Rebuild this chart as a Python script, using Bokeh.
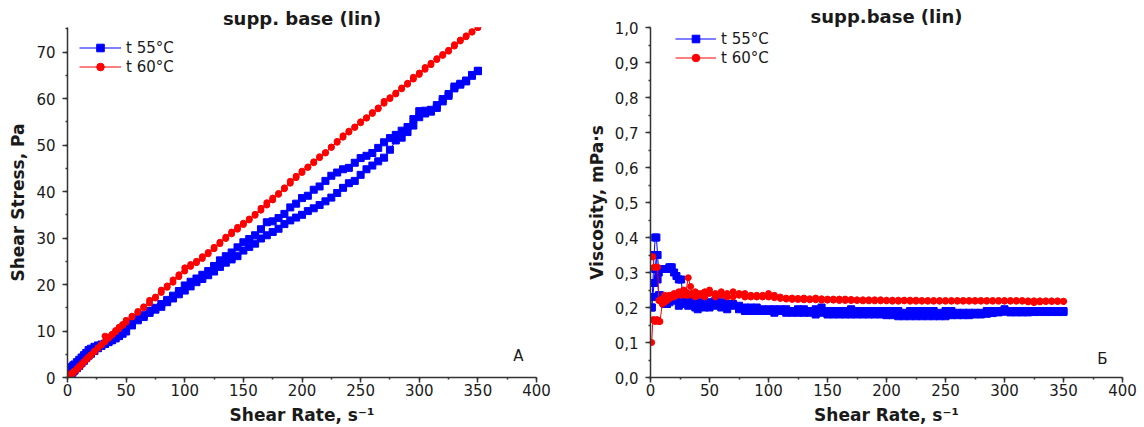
from bokeh.plotting import figure
from bokeh.layouts import row
from bokeh.models import (SingleIntervalTicker, Label, CustomJSTickFormatter, Range1d,
                          ColumnDataSource, Legend, LegendItem)
from bokeh.embed import file_html
from bokeh.resources import INLINE

# ---------------- data: shear stress (chart A) ----------------
rate_a = [1, 2, 3, 4, 5, 6, 8, 10, 12, 14, 16, 18, 20, 23, 26, 29, 32, 35, 38, 41, 44, 47,
          50, 55, 60, 65, 70, 75, 80, 85, 90, 95, 100, 105, 110, 115, 120, 125, 130, 135,
          140, 145, 150, 155, 160, 165, 170, 175, 180, 185, 190, 195, 200, 205, 210, 215,
          220, 225, 230, 235, 240, 245, 250, 255, 260, 265, 270, 275, 280, 285, 290, 295,
          300, 305, 310, 315, 320, 325, 330, 335, 340, 345, 350]

stress_55_up = [1.6, 1.9, 2.1, 2.3, 2.6, 2.8, 3.3, 3.8, 4.3, 4.8, 5.3, 5.9, 6.2, 6.6, 6.9, 7.1,
                7.3, 7.7, 8.1, 8.5, 9.2, 10.1,
                10.8, 11.9, 12.6, 13.4, 14.3, 15.0, 15.8, 16.7, 17.6, 18.6, 19.8, 20.6, 21.3,
                22.1, 22.9, 24.0, 25.2, 26.1, 26.9, 28.0, 29.1, 29.8, 30.6, 31.9, 33.4, 33.6,
                34.3, 35.2, 36.6, 37.4, 38.6, 39.1, 40.4, 41.1, 42.3, 43.4, 44.1, 44.8, 45.1,
                46.2, 47.2, 47.7, 48.3, 49.4, 50.6, 51.5, 52.2, 53.1, 53.9, 55.6, 57.3, 57.4,
                57.6, 58.6, 59.9, 61.0, 62.6, 63.2, 63.9, 65.1, 66.0]
stress_55_down = [0.4, 0.6, 0.8, 1.0, 1.3, 1.5, 2.0, 2.5, 3.1, 3.6, 4.2, 4.7, 5.1, 5.7, 6.3, 6.8,
                  7.2, 7.6, 8.0, 8.4, 8.9, 9.4,
                  9.9, 11.2, 12.3, 13.0, 13.9, 14.6, 15.2, 16.2, 17.0, 17.9, 18.7, 19.6, 20.5,
                  21.2, 22.0, 22.8, 23.8, 24.7, 25.4, 26.1, 27.3, 28.1, 28.8, 29.9, 30.6, 31.3,
                  32.0, 33.0, 33.8, 34.4, 35.0, 35.8, 36.4, 37.1, 37.9, 38.7, 39.7, 40.8, 41.8,
                  42.3, 43.6, 44.8, 45.6, 46.5, 47.3, 49.0, 51.0, 51.6, 52.8, 54.2, 56.0, 56.8,
                  57.2, 58.0, 59.4, 60.6, 62.2, 63.0, 63.7, 64.9, 65.9]
stress_60_up = [0.4, 0.6, 0.8, 1.0, 1.2, 1.4, 1.9, 2.4, 2.9, 3.4, 3.9, 4.4, 4.9, 5.7, 6.4, 7.1,
                8.9, 8.7, 9.3, 10.1, 10.8, 11.4,
                12.3, 13.2, 14.2, 15.2, 16.6, 17.3, 18.8, 19.7, 21.0, 22.1, 23.6, 24.3, 25.0,
                26.0, 26.9, 28.0, 29.1, 30.2, 31.3, 32.3, 33.2, 34.1, 35.1, 36.4, 37.6, 38.6,
                39.6, 40.8, 42.2, 43.3, 44.4, 45.3, 46.4, 47.5, 48.3, 49.6, 50.8, 52.0, 53.0,
                53.9, 55.0, 55.9, 57.0, 58.0, 59.4, 60.2, 61.2, 62.3, 63.3, 64.6, 65.5, 66.7,
                67.6, 68.6, 69.5, 70.4, 71.6, 72.6, 73.5, 74.4, 75.3]
stress_60_down = [0.2, 0.4, 0.6, 0.8, 1.0, 1.3, 1.7, 2.2, 2.7, 3.3, 3.8, 4.3, 4.8, 5.5, 6.3, 7.0,
                  7.7, 8.4, 9.1, 9.8, 10.5, 11.2,
                  11.9, 13.0, 14.0, 15.0, 16.0, 17.1, 18.3, 19.4, 20.5, 21.7, 22.9, 23.9, 24.7,
                  25.6, 26.6, 27.7, 28.8, 29.9, 30.9, 31.9, 32.9, 33.9, 34.9, 36.0, 37.1, 38.2,
                  39.4, 40.6, 41.8, 43.0, 44.1, 45.2, 46.2, 47.3, 48.4, 49.5, 50.6, 51.7, 52.8,
                  53.8, 54.8, 55.8, 56.8, 57.8, 59.0, 60.0, 61.0, 62.1, 63.1, 64.2, 65.2, 66.3,
                  67.3, 68.4, 69.3, 70.2, 71.3, 72.4, 73.3, 74.3, 75.3]

# ---------------- data: viscosity (chart Б) ----------------
rate_b = [1, 2, 3, 4, 5, 6, 7, 8, 10, 12, 14, 16, 18, 20, 22, 24, 26, 28, 30, 32, 34, 36, 38, 40,
          43, 46, 50, 55, 60, 65, 70, 75, 80, 85, 90, 95, 100, 105, 110, 115, 120, 125, 130,
          135, 140, 145, 150, 155, 160, 165, 170, 175, 180, 185, 190, 195, 200, 205, 210, 215,
          220, 225, 230, 235, 240, 245, 250, 255, 260, 265, 270, 275, 280, 285, 290, 295, 300,
          305, 310, 315, 320, 325, 330, 335, 340, 345, 350]

visc_55_up = [0.20, 0.27, 0.35, 0.40, 0.40, 0.35, 0.30, 0.31, 0.31, 0.31, 0.31, 0.315, 0.315,
              0.30, 0.29, 0.28, 0.28, 0.21, 0.23, 0.225, 0.22, 0.225, 0.215, 0.21,
              0.215, 0.21, 0.215, 0.22, 0.215, 0.21, 0.21, 0.205, 0.20, 0.20, 0.20, 0.195,
              0.195, 0.195, 0.195, 0.195, 0.19, 0.195, 0.195, 0.19, 0.195, 0.20, 0.19, 0.19,
              0.19, 0.19, 0.195, 0.19, 0.19, 0.19, 0.19, 0.19, 0.19, 0.19, 0.19, 0.185, 0.19,
              0.19, 0.19, 0.19, 0.19, 0.185, 0.19, 0.19, 0.185, 0.185, 0.185, 0.185, 0.185,
              0.19, 0.19, 0.19, 0.195, 0.19, 0.19, 0.19, 0.19, 0.19, 0.19, 0.19, 0.19, 0.19,
              0.19]
visc_55_down = [0.20, 0.23, 0.27, 0.31, 0.35, 0.28, 0.235, 0.235, 0.22, 0.21, 0.21, 0.215, 0.22,
                0.225, 0.22, 0.205, 0.21, 0.215, 0.215, 0.205, 0.215, 0.21, 0.20, 0.195,
                0.205, 0.20, 0.20, 0.205, 0.20, 0.195, 0.205, 0.195, 0.19, 0.19, 0.19, 0.19,
                0.19, 0.185, 0.19, 0.185, 0.185, 0.185, 0.185, 0.185, 0.18, 0.185, 0.18, 0.18,
                0.18, 0.18, 0.18, 0.18, 0.18, 0.18, 0.18, 0.18, 0.178, 0.178, 0.175, 0.175,
                0.175, 0.175, 0.175, 0.175, 0.175, 0.175, 0.175, 0.178, 0.178, 0.178, 0.178,
                0.18, 0.18, 0.182, 0.184, 0.186, 0.188, 0.186, 0.186, 0.186, 0.186, 0.187,
                0.187, 0.187, 0.187, 0.187, 0.187]
visc_60_up = [0.10, 0.165, 0.165, 0.16, 0.165, 0.165, 0.16, 0.16, 0.21, 0.235, 0.23, 0.235,
              0.235, 0.24, 0.235, 0.245, 0.24, 0.25, 0.245, 0.285, 0.26, 0.24, 0.245, 0.24,
              0.24, 0.245, 0.25, 0.24, 0.245, 0.24, 0.245, 0.24, 0.24, 0.235, 0.235, 0.235,
              0.24, 0.235, 0.23, 0.227, 0.227, 0.226, 0.227, 0.225, 0.227, 0.225, 0.224,
              0.224, 0.224, 0.224, 0.223, 0.222, 0.222, 0.222, 0.222, 0.222, 0.221, 0.221,
              0.221, 0.221, 0.221, 0.221, 0.22, 0.22, 0.22, 0.22, 0.22, 0.22, 0.22, 0.22,
              0.22, 0.22, 0.22, 0.22, 0.22, 0.22, 0.22, 0.22, 0.22, 0.22, 0.219, 0.219, 0.219,
              0.219, 0.219, 0.219, 0.218]
visc_60_down = [0.345, 0.345, 0.315, 0.315, 0.315, 0.315, 0.22, 0.22, 0.225, 0.215, 0.22, 0.225,
                0.23, 0.23, 0.235, 0.24, 0.235, 0.24, 0.235, 0.235, 0.24, 0.235, 0.23, 0.235,
                0.235, 0.23, 0.24, 0.23, 0.235, 0.23, 0.23, 0.235, 0.23, 0.23, 0.23, 0.23,
                0.23, 0.228, 0.226, 0.224, 0.223, 0.223, 0.222, 0.222, 0.222, 0.221, 0.221,
                0.221, 0.22, 0.22, 0.22, 0.22, 0.219, 0.219, 0.219, 0.219, 0.219, 0.218, 0.218,
                0.219, 0.218, 0.218, 0.218, 0.218, 0.218, 0.218, 0.218, 0.218, 0.218, 0.218,
                0.218, 0.218, 0.218, 0.218, 0.218, 0.218, 0.218, 0.218, 0.218, 0.218, 0.216,
                0.214, 0.216, 0.217, 0.217, 0.217, 0.217]

series_labels = ["t 55°C", "t 60°C"]
titles = ["supp. base (lin)", "supp.base (lin)"]
x_label = "Shear Rate, s⁻¹"
y_labels = ["Shear Stress, Pa", "Viscosity, mPa·s"]
panel_letters = ["А", "Б"]

FONT = "DejaVu Sans"
BLUE = "#0000ff"
RED = "#ff0000"
INK = "#1a1a1a"
AXIS = "#333333"


def sweep(rate, up, down):
    # up sweep followed by the down sweep (reversed order)
    return ColumnDataSource(dict(x=list(rate) + list(rate)[::-1], y=list(up) + list(down)[::-1]))


def style(p, xlab, ylab, title_standoff):
    p.xgrid.visible = False
    p.ygrid.visible = False
    p.outline_line_color = None
    p.background_fill_color = "white"
    p.border_fill_color = "white"
    p.title.align = "center"
    p.title.text_font = FONT
    p.title.text_font_size = "18px"
    p.title.text_font_style = "bold"
    p.title.text_color = INK
    p.title.standoff = title_standoff
    for ax in (p.xaxis[0], p.yaxis[0]):
        ax.axis_line_color = AXIS
        ax.axis_line_width = 1.5
        ax.major_tick_line_color = AXIS
        ax.major_tick_line_width = 1.5
        ax.minor_tick_line_color = AXIS
        ax.minor_tick_line_width = 1.5
        ax.major_tick_in = 0
        ax.major_tick_out = 5
        ax.minor_tick_in = 0
        ax.minor_tick_out = 2
        ax.major_label_text_font = FONT
        ax.major_label_text_font_size = "15px"
        ax.major_label_text_color = INK
        ax.axis_label_text_font = FONT
        ax.axis_label_text_font_size = "17px"
        ax.axis_label_text_font_style = "bold"
        ax.axis_label_text_color = INK
    p.xaxis.axis_label = xlab
    p.yaxis.axis_label = ylab
    p.xaxis.major_label_standoff = 1
    p.xaxis.axis_label_standoff = 6
    p.yaxis.major_label_standoff = 7
    p.yaxis.axis_label_standoff = 5
    p.xaxis.ticker = SingleIntervalTicker(interval=50, num_minor_ticks=2)


def draw(p, src55, src60, legend_xy, glyph_w):
    bl = p.line("x", "y", source=src55, line_color=BLUE, line_width=1)
    bs = p.scatter("x", "y", source=src55, marker="square", size=7, fill_color=BLUE, line_color=BLUE)
    rl = p.line("x", "y", source=src60, line_color=RED, line_width=1)
    rs = p.scatter("x", "y", source=src60, marker="circle", size=6, fill_color=RED, line_color=RED)
    leg = Legend(items=[LegendItem(label=series_labels[0], renderers=[bl, bs]),
                        LegendItem(label=series_labels[1], renderers=[rl, rs])],
                 location=legend_xy, glyph_width=glyph_w, glyph_height=19, label_height=19,
                 spacing=0, padding=0, margin=0, label_standoff=5,
                 border_line_alpha=0, background_fill_alpha=0,
                 label_text_font=FONT, label_text_font_size="15px", label_text_color=INK)
    p.add_layout(leg)


# ---------------- chart A ----------------
p1 = figure(width=570, height=427, x_range=Range1d(0, 400), y_range=Range1d(0, 75.3),
            title=titles[0], output_backend="svg", toolbar_location=None,
            min_border_left=67, min_border_right=34, min_border_top=27, min_border_bottom=50)
style(p1, x_label, y_labels[0], -3)
p1.yaxis.ticker = SingleIntervalTicker(interval=10, num_minor_ticks=2)
draw(p1, sweep(rate_a, stress_55_up, stress_55_down), sweep(rate_a, stress_60_up, stress_60_down),
     (12, 301), 42)
p1.add_layout(Label(x=384.6, y=4.6, text=panel_letters[0], text_align="center",
                    text_baseline="middle", text_font=FONT, text_font_size="15px", text_color=INK))

# ---------------- chart Б ----------------
p2 = figure(width=574, height=427, x_range=Range1d(0, 400), y_range=Range1d(0, 1.0),
            title=titles[1], output_backend="svg", toolbar_location=None,
            min_border_left=80, min_border_right=22, min_border_top=26, min_border_bottom=49)
style(p2, x_label, y_labels[1], 1)
p2.yaxis.ticker = SingleIntervalTicker(interval=0.1, num_minor_ticks=2)
p2.yaxis.formatter = CustomJSTickFormatter(code="return tick.toFixed(1).replace('.', ',');")
draw(p2, sweep(rate_b, visc_55_up, visc_55_down), sweep(rate_b, visc_60_up, visc_60_down),
     (25, 310), 41)
p2.add_layout(Label(x=383, y=0.052, text=panel_letters[1], text_align="center",
                    text_baseline="middle", text_font=FONT, text_font_size="15px", text_color=INK))

layout = row(p1, p2)
open("out.html", "w").write(file_html(layout, INLINE))
